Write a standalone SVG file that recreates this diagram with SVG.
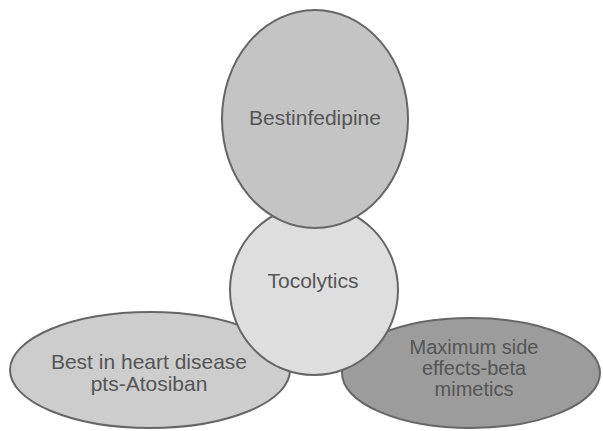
<svg xmlns="http://www.w3.org/2000/svg" width="603" height="431" viewBox="0 0 603 431">
<style>
.shape{stroke:#666;stroke-width:2}
.lbl{font-family:"Liberation Sans",Arial,sans-serif;font-size:21px;fill:#555;text-anchor:middle}
.sm{font-size:20px}
</style>
<rect width="603" height="431" fill="#fff"/>
<g id="node-left">
<ellipse class="shape" cx="150" cy="370" rx="140" ry="58" fill="#cdcdcd"/>
<text class="lbl" x="149" y="369">Best in heart disease</text>
<text class="lbl" x="149" y="391">pts-Atosiban</text>
</g>
<g id="node-right">
<ellipse class="shape" cx="471" cy="373" rx="129" ry="55" fill="#9c9c9c"/>
<text class="lbl sm" x="474" y="354">Maximum side</text>
<text class="lbl sm" x="474" y="375">effects-beta</text>
<text class="lbl sm" x="474" y="396">mimetics</text>
</g>
<g id="node-center">
<ellipse class="shape" cx="314" cy="290" rx="84" ry="85" fill="#dedede"/>
<text class="lbl" x="313" y="288">Tocolytics</text>
</g>
<g id="node-top">
<ellipse class="shape" cx="315" cy="119" rx="93" ry="109" fill="#c4c4c4"/>
<text class="lbl" x="315" y="125">Bestinfedipine</text>
</g>
<g id="connectors"></g>
</svg>
